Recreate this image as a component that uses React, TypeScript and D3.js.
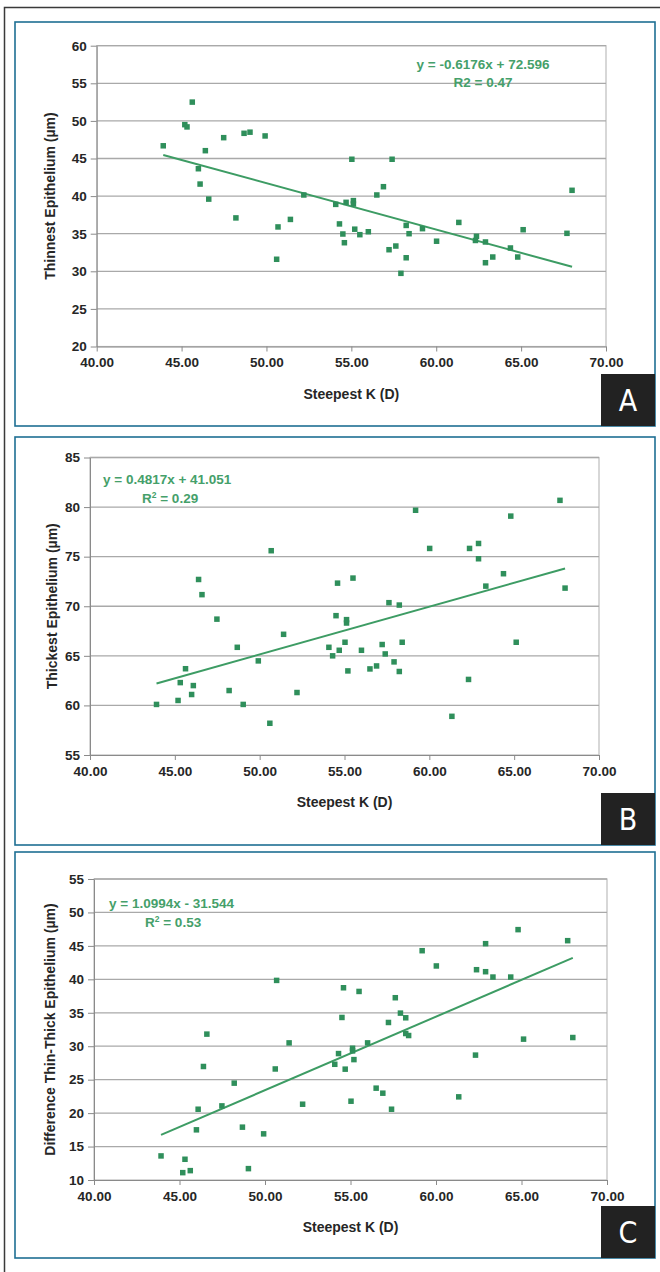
import React, { useEffect, useRef } from "react";
import * as d3 from "d3";

// Steepest K (D) for each eye, shared by the three panels
const steepestK = [
  43.92, 45.19, 45.32, 45.63, 45.99, 46.09, 46.4, 46.6, 47.48, 48.2,
  48.68, 49.03, 49.92, 50.6, 50.68, 51.41, 52.2, 54.08, 54.3, 54.5,
  54.59, 54.69, 55.03, 55.12, 55.12, 55.2, 55.5, 56.0, 56.5, 56.89,
  57.22, 57.4, 57.62, 57.92, 58.23, 58.23, 58.4, 59.19, 60.02, 61.33,
  62.31, 62.37, 62.9, 62.9, 63.33, 64.37, 64.8, 65.12, 67.7, 68.0,
];

const thinnest = [
  46.69, 49.5, 49.2, 52.5, 43.64, 41.6, 46.04, 39.6, 47.77, 37.1,
  48.35, 48.5, 48.0, 31.6, 35.9, 36.9, 40.15, 38.9, 36.3, 34.96,
  33.8, 39.17, 44.9, 39.4, 38.95, 35.6, 34.87, 35.26, 40.15, 41.25,
  32.87, 44.9, 33.36, 29.73, 36.1, 31.8, 35.0, 35.67, 34.0, 36.5,
  34.1, 34.65, 33.9, 31.14, 31.9, 33.1, 31.9, 35.53, 35.05, 40.77,
];

const thickest = [
  60.1, 60.5, 62.3, 63.7, 61.1, 62.0, 72.7, 71.17, 68.7, 61.5,
  65.86, 60.1, 64.49, 58.2, 75.6, 67.17, 61.3, 65.86, 65.0, 69.05,
  72.33, 65.56, 66.37, 68.31, 68.65, 63.48, 72.84, 65.56, 63.68, 63.98,
  66.14, 65.19, 70.36, 64.39, 70.12, 63.42, 66.37, 79.68, 75.83, 58.9,
  62.62, 75.83, 74.79, 76.33, 72.03, 73.28, 79.09, 66.37, 80.68, 71.83,
];

const difference = [
  13.6, 11.1, 13.1, 11.4, 17.5, 20.58, 26.97, 31.81, 21.08, 24.48,
  17.9, 11.7, 16.9, 26.6, 39.84, 30.5, 21.33, 27.3, 28.9, 34.3,
  38.74, 26.57, 21.78, 29.3, 29.7, 28.0, 38.19, 30.5, 23.73, 22.98,
  33.55, 20.58, 37.25, 34.95, 34.25, 31.9, 31.6, 44.28, 42.0, 22.43,
  28.67, 41.44, 41.14, 45.33, 40.34, 40.34, 47.43, 31.06, 45.78, 31.3,
];

const xTicks = [40, 45, 50, 55, 60, 65, 70];
const panelLetters = ["A", "B", "C"];
const yTitles = [
  "Thinnest Epithelium (µm)",
  "Thickest Epithelium (µm)",
  "Difference Thin-Thick Epithelium (µm)",
];
const yDomains = [[20, 60], [55, 85], [10, 55]];
const slopes = [-0.6176, 0.4817, 1.0994];
const intercepts = [72.596, 41.051, -31.544];
const equations = ["y = -0.6176x + 72.596", "y = 0.4817x + 41.051", "y = 1.0994x - 31.544"];
const r2Values = ["0.47", "0.29", "0.53"];

const seriesByPanel = [thinnest, thickest, difference];

// layout of each panel (page pixels)
const layout = [
  { top: 22, bottom: 426, left: 96.7, right: 606, pTop: 45.7, pBottom: 346.5, titleX: 50,
    eq: { x: 483, y: 69, anchor: "middle" }, r2: { x: 483, y: 87, anchor: "middle", sup: false } },
  { top: 437, bottom: 845, left: 90, right: 599, pTop: 457.5, pBottom: 755, titleX: 52,
    eq: { x: 103, y: 484, anchor: "start" }, r2: { x: 142, y: 503, anchor: "start", sup: true } },
  { top: 852, bottom: 1258, left: 94, right: 607, pTop: 879, pBottom: 1180, titleX: 50,
    eq: { x: 109, y: 908, anchor: "start" }, r2: { x: 145, y: 927, anchor: "start", sup: true } },
];

const FONT = "'Liberation Sans', Arial, sans-serif";
const GREEN = "#2f8f5b";
const LINE_GREEN = "#3d9c64";

export default function App() {
  const ref = useRef<SVGSVGElement>(null);

  useEffect(() => {
    const svg = d3.select(ref.current);
    svg.selectAll("*").remove();

    // outer frame (only top and left edges are visible)
    svg.append("path")
      .attr("d", "M4.5,1272 V7.5 H660")
      .attr("fill", "none")
      .attr("stroke", "#3a3a3a")
      .attr("stroke-width", 1.5);

    layout.forEach((L, i) => {
      const g = svg.append("g");
      const values = seriesByPanel[i];
      const [y0, y1] = yDomains[i];

      const x = d3.scaleLinear().domain([40, 70]).range([L.left, L.right]);
      const y = d3.scaleLinear().domain([y0, y1]).range([L.pBottom, L.pTop]);
      const yTicks = d3.range(y0, y1 + 0.001, 5);

      // panel border
      g.append("rect")
        .attr("x", 15).attr("y", L.top)
        .attr("width", 640).attr("height", L.bottom - L.top)
        .attr("fill", "#fff")
        .attr("stroke", "#1f6f93")
        .attr("stroke-width", 1.6);

      // plot frame
      g.append("rect")
        .attr("x", L.left).attr("y", L.pTop)
        .attr("width", L.right - L.left).attr("height", L.pBottom - L.pTop)
        .attr("fill", "none")
        .attr("stroke", "#bdbdbd")
        .attr("stroke-width", 1.2);

      // gridlines
      g.selectAll(".grid")
        .data(yTicks.filter(t => t !== y0))
        .join("line")
        .attr("x1", L.left).attr("x2", L.right)
        .attr("y1", d => y(d)).attr("y2", d => y(d))
        .attr("stroke", "#a9a9a9")
        .attr("stroke-width", 1.3);

      // y axis
      const yAxis = g.append("g").attr("transform", `translate(${L.left},0)`)
        .call(d3.axisLeft(y).tickValues(yTicks).tickSize(6).tickSizeOuter(0).tickPadding(4).tickFormat(d3.format("d")));
      yAxis.select(".domain").attr("stroke", "#8a8a8a");
      yAxis.selectAll(".tick line").attr("stroke", "#8a8a8a");
      yAxis.selectAll(".tick text")
        .attr("font-family", FONT).attr("font-size", 13.5).attr("font-weight", "bold").attr("fill", "#262626");

      // x axis
      const xAxis = g.append("g").attr("transform", `translate(0,${L.pBottom})`)
        .call(d3.axisBottom(x).tickValues(xTicks).tickSize(5).tickSizeOuter(0).tickPadding(6).tickFormat(d3.format(".2f")));
      xAxis.select(".domain").attr("stroke", "#8a8a8a");
      xAxis.selectAll(".tick line").attr("stroke", "#8a8a8a");
      xAxis.selectAll(".tick text")
        .attr("font-family", FONT).attr("font-size", 13.5).attr("font-weight", "bold").attr("fill", "#262626");

      // axis titles
      g.append("text")
        .attr("x", (L.left + L.right) / 2)
        .attr("y", L.pBottom + 52)
        .attr("text-anchor", "middle")
        .attr("font-family", FONT).attr("font-size", 14).attr("font-weight", "bold").attr("fill", "#262626")
        .text("Steepest K (D)");

      g.append("text")
        .attr("transform", `translate(${L.titleX},${(L.pTop + L.pBottom) / 2}) rotate(-90)`)
        .attr("text-anchor", "middle")
        .attr("dy", "0.35em")
        .attr("font-family", FONT).attr("font-size", 14).attr("font-weight", "bold").attr("fill", "#262626")
        .text(yTitles[i]);

      // trendline
      const xs = d3.extent(steepestK) as [number, number];
      g.append("line")
        .attr("x1", x(xs[0])).attr("y1", y(slopes[i] * xs[0] + intercepts[i]))
        .attr("x2", x(xs[1])).attr("y2", y(slopes[i] * xs[1] + intercepts[i]))
        .attr("stroke", LINE_GREEN)
        .attr("stroke-width", 2);

      // points
      g.selectAll(".pt")
        .data(values)
        .join("rect")
        .attr("x", (d, j) => x(steepestK[j]) - 2.75)
        .attr("y", d => y(d) - 2.75)
        .attr("width", 5.5).attr("height", 5.5)
        .attr("fill", GREEN);

      // equation
      g.append("text")
        .attr("x", L.eq.x).attr("y", L.eq.y)
        .attr("text-anchor", L.eq.anchor)
        .attr("font-family", FONT).attr("font-size", 13.5).attr("font-weight", "bold").attr("fill", "#45a06a")
        .text(equations[i]);

      const r2 = g.append("text")
        .attr("x", L.r2.x).attr("y", L.r2.y)
        .attr("text-anchor", L.r2.anchor)
        .attr("font-family", FONT).attr("font-size", 13.5).attr("font-weight", "bold").attr("fill", "#45a06a");
      if (L.r2.sup) {
        r2.append("tspan").text("R");
        r2.append("tspan").attr("dy", -5).attr("font-size", 8.5).text("2");
        r2.append("tspan").attr("dy", 5).text(` = ${r2Values[i]}`);
      } else {
        r2.text(`R2 = ${r2Values[i]}`);
      }

      // panel letter
      g.append("rect")
        .attr("x", 601).attr("y", L.bottom - 52)
        .attr("width", 54).attr("height", 52)
        .attr("fill", "#222");
      g.append("text")
        .attr("x", 628).attr("y", L.bottom - 15)
        .attr("text-anchor", "middle")
        .attr("font-family", "'Liberation Sans Narrow', 'DejaVu Sans Condensed', sans-serif")
        .attr("font-size", 30)
        .attr("fill", "#fff")
        .text(panelLetters[i]);
    });
  }, []);

  return (
    <svg
      ref={ref}
      width={660}
      height={1272}
      style={{ position: "absolute", left: 0, top: 0, background: "#fff" }}
    />
  );
}
